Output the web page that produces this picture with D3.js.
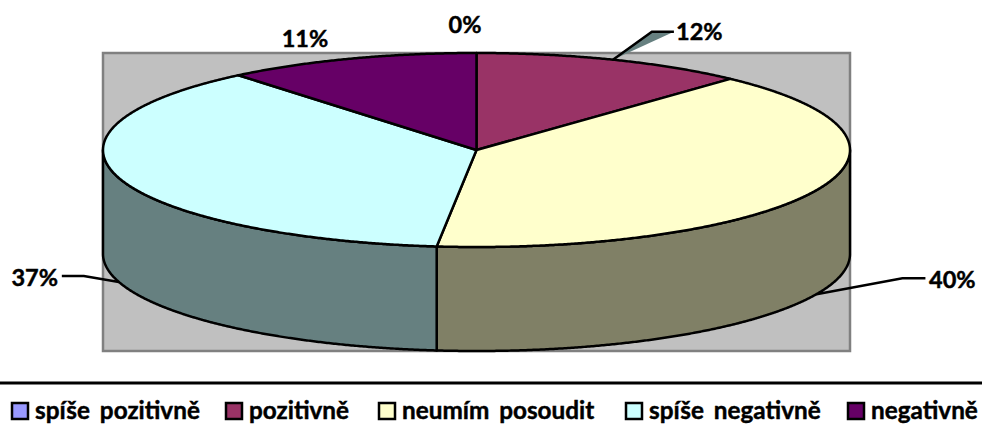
<!DOCTYPE html>
<html>
<head>
<meta charset="utf-8">
<script src="https://cdn.jsdelivr.net/npm/d3@7"></script>
<style>
  body { margin: 0; background: #fff; }
  text { font-family: Lato, sans-serif; font-weight: 700; fill: #000; stroke: #000; stroke-width: 0.45px; }
</style>
</head>
<body>
<div id="container"></div>
<script>
/* CONSTANTS AND GLOBALS */
const width = 982, height = 436;
const plot = { left: 103, right: 850, top: 53, bottom: 247 };
const depth = 104;
const edge = 2.5;

/* DATA */
const categories = ["spíše pozitivně", "pozitivně", "neumím posoudit", "spíše negativně", "negativně"];
const values = [0, 11.9, 39.8, 37.3, 11];
const colors = ["#9999FF", "#993366", "#FFFFCC", "#CCFFFF", "#660066"];
const sideColors = ["#4C4C80", "#4C1933", "#808066", "#668080", "#330033"];

// where each legend entry starts
const legendX = [12, 226, 379, 626, 848];

/* SCALES */
const xScale = d3.scaleLinear().domain([-1, 1]).range([plot.left, plot.right]);
const yScale = d3.scaleLinear().domain([-1, 1]).range([plot.top, plot.bottom]);

const px = a => xScale(Math.sin(a));
const py = a => yScale(-Math.cos(a));

const slices = d3.pie().sort(null).value(d => d)(values);

// points along the rim between two angles
const rim = (a0, a1, dy = 0) => {
  const n = Math.max(1, Math.ceil(Math.abs(a1 - a0) / 0.005));
  return d3.range(n + 1).map(i => {
    const a = a0 + (a1 - a0) * i / n;
    return [px(a), py(a) + dy];
  });
};
const line = d3.line();

/* HTML ELEMENTS */
const svg = d3.select("#container")
  .append("svg")
  .attr("width", width)
  .attr("height", height)
  .style("display", "block");

// plot background
svg.append("rect")
  .attr("x", plot.left)
  .attr("y", plot.top)
  .attr("width", plot.right - plot.left)
  .attr("height", plot.bottom + depth - plot.top)
  .attr("fill", "#C0C0C0")
  .attr("stroke", "#808080")
  .attr("stroke-width", edge);

// leader lines, offsets are from the anchor on the slice to elbow and end
const mid = d => (d.startAngle + d.endAngle) / 2;
const leaders = [
  { i: 1, dy: 0, elbow: [39, -28], end: [61, -28], fill: sideColors[3] },
  { i: 2, dy: depth, elbow: [86, -16], end: [109, -16], fill: "none" },
  { i: 3, dy: depth, elbow: [-35, -6], end: [-57, -6], fill: "none" }
];
leaders.forEach(l => {
  const a = mid(slices[l.i]);
  const x = px(a), y = py(a) + l.dy;
  const pts = [[x, y], [x + l.elbow[0], y + l.elbow[1]], [x + l.end[0], y + l.end[1]]];
  if (l.fill !== "none") {
    svg.append("path").attr("d", line(pts) + "Z").attr("fill", l.fill);
  }
  svg.append("path")
    .attr("d", line(pts))
    .attr("fill", "none")
    .attr("stroke", "#000")
    .attr("stroke-width", edge);
});

// side walls, only the front half of the cylinder can be seen
slices.forEach((d, i) => {
  const a0 = Math.max(d.startAngle, Math.PI / 2);
  const a1 = Math.min(d.endAngle, Math.PI * 1.5);
  if (a1 <= a0) return;
  const pts = rim(a0, a1).concat(rim(a1, a0, depth));
  svg.append("path")
    .attr("d", line(pts) + "Z")
    .attr("fill", sideColors[i])
    .attr("stroke", "#000")
    .attr("stroke-width", edge)
    .attr("stroke-linejoin", "round");
});

// top face
svg.selectAll("path.slice")
  .data(slices.filter(d => d.value > 0))
  .join("path")
  .attr("class", "slice")
  .attr("d", d => line([[xScale(0), yScale(0)]].concat(rim(d.startAngle, d.endAngle))) + "Z")
  .attr("fill", d => colors[d.index])
  .attr("stroke", "#000")
  .attr("stroke-width", edge)
  .attr("stroke-linejoin", "round");

/* LABELS */
const labelFmt = v => Math.round(v) + "%";
const labelPos = [
  { i: 0, x: 465, y: 33, anchor: "middle" },
  { i: 1, x: 676, y: 40, anchor: "start" },
  { i: 2, x: 929, y: 288, anchor: "start" },
  { i: 3, x: 58, y: 286, anchor: "end" },
  { i: 4, x: 305, y: 47, anchor: "middle" }
];
svg.selectAll("text.pct")
  .data(labelPos)
  .join("text")
  .attr("class", "pct")
  .attr("x", d => d.x)
  .attr("y", d => d.y)
  .attr("text-anchor", d => d.anchor)
  .attr("font-size", 23.5)
  .text(d => labelFmt(values[d.i]));

/* LEGEND */
svg.append("line")
  .attr("x1", 0).attr("x2", width)
  .attr("y1", 383).attr("y2", 383)
  .attr("stroke", "#000")
  .attr("stroke-width", 3);

const legend = svg.selectAll("g.legend")
  .data(categories)
  .join("g")
  .attr("class", "legend")
  .attr("transform", (d, i) => `translate(${legendX[i]},403)`);

legend.append("rect")
  .attr("width", 16)
  .attr("height", 16)
  .attr("fill", (d, i) => colors[i])
  .attr("stroke", "#000")
  .attr("stroke-width", 2.5);

legend.append("text")
  .attr("x", 23)
  .attr("y", 16)
  .attr("font-size", 24.3)
  .attr("word-spacing", 4)
  .text(d => d);
</script>
</body>
</html>
